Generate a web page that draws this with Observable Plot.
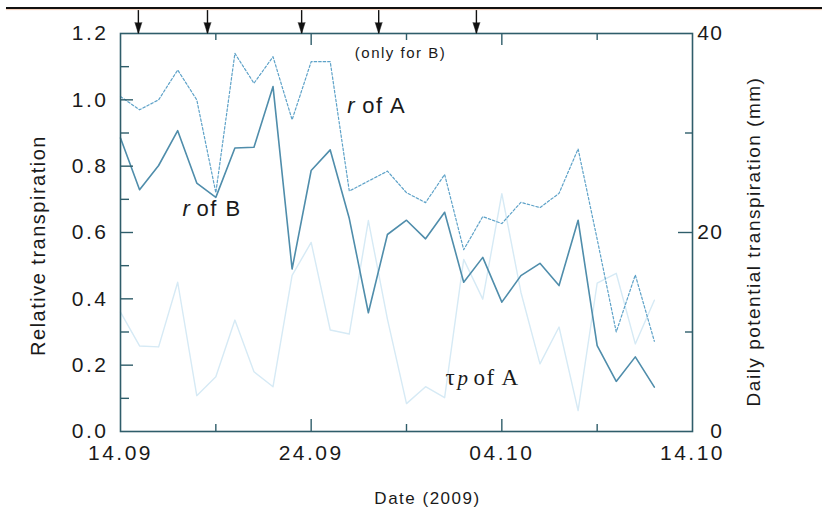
<!DOCTYPE html>
<html><head><meta charset="utf-8">
<script src="https://cdn.jsdelivr.net/npm/d3@7"></script>
<script src="https://cdn.jsdelivr.net/npm/@observablehq/plot@0.6"></script>
<style>
body{margin:0;background:#fff;}
#wrap{position:relative;width:822px;height:520px;overflow:hidden;}
#topline{position:absolute;left:6px;right:0;top:7px;border-top:2px solid #111;box-shadow:0 1px 1px #f3cdb6;}
svg text{letter-spacing:1.5px;}
g[aria-label$="tick label"] text{letter-spacing:2.5px;}
</style></head><body><div id="wrap"><div id="topline"></div></div>
<script>
// ---- data ----
const days = ["2009-09-14","2009-09-15","2009-09-16","2009-09-17","2009-09-18","2009-09-19","2009-09-20","2009-09-21","2009-09-22","2009-09-23","2009-09-24","2009-09-25","2009-09-26","2009-09-27","2009-09-28","2009-09-29","2009-09-30","2009-10-01","2009-10-02","2009-10-03","2009-10-04","2009-10-05","2009-10-06","2009-10-07","2009-10-08","2009-10-09","2009-10-10","2009-10-11","2009-10-12"];
const rOfA = [1.01,0.97,1.00,1.09,1.00,0.72,1.14,1.05,1.13,0.94,1.115,1.115,0.725,0.755,0.785,0.72,0.69,0.775,0.548,0.648,0.627,0.691,0.675,0.718,0.852,0.58,0.30,0.472,0.272];
const rOfB = [0.885,0.729,0.802,0.907,0.749,0.706,0.855,0.857,1.04,0.49,0.787,0.849,0.642,0.358,0.594,0.637,0.581,0.661,0.45,0.525,0.39,0.47,0.507,0.44,0.637,0.259,0.151,0.225,0.134];
const tpOfA = [12.0,8.6,8.5,15.0,3.6,5.5,11.2,6.0,4.5,15.7,19.0,10.2,9.8,21.2,11.3,2.8,4.5,3.4,17.3,13.3,23.9,14.0,6.8,10.5,2.1,14.9,15.9,8.8,13.2]; // mm
const arrowTimes = ["2009-09-14T22:30Z","2009-09-18T13:30Z","2009-09-23T12:00Z","2009-09-27T13:00Z","2009-10-02T16:00Z"];
const xDomain = ["2009-09-14","2009-10-14"];
const xTickLabels = ["2009-09-14","2009-09-24","2009-10-04","2009-10-14"];
const xMajorTicks = ["2009-09-24","2009-10-04"];
const xMinorTicks = ["2009-09-19","2009-09-29","2009-10-09"];
const yTickLabels = [0,0.2,0.4,0.6,0.8,1.0,1.2];
const yMajorTicks = [0.2,0.4,0.6,0.8,1.0];
const yMinorTicks = [0.1,0.3,0.5,0.7,0.9,1.1];
const y2TickLabels = [0,20,40];
const y2MajorTicks = [20];
const y2MinorTicks = [10,30];
const yMax = 1.2, y2Max = 40;
const ratio = yMax / y2Max;

const P = s => new Date(s.length === 10 ? s + "T00:00Z" : s);
const data = days.map((d,i) => ({date:P(d), rA:rOfA[i], rB:rOfB[i], tp:tpOfA[i]}));

const W=822,H=520,mL=120,mR=130,mT=33,mB=89;
const innerW=W-mL-mR, innerH=H-mT-mB;
const frameC="#2f5d6a";
const sans="'Liberation Sans', Arial, sans-serif";
const serif="'Liberation Serif', 'Times New Roman', serif";

const lab = (t, date, yv, o={}) => Plot.text([t], {x:()=>P(date), y:()=>yv, text:d=>d, textAnchor:"start", fill:"#1a1a1a", ...o});

const chart = Plot.plot({
  width:W, height:H, marginLeft:mL, marginRight:mR, marginTop:mT, marginBottom:mB,
  style:{fontFamily:sans, background:"transparent", color:"#1a1a1a"},
  x:{type:"utc", domain:xDomain.map(P)},
  y:{domain:[0,yMax]},
  marks:[
    Plot.line(data,{x:"date", y:d=>d.tp*ratio, stroke:"#d6eaf5", strokeWidth:1.4}),
    Plot.line(data,{x:"date", y:"rA", stroke:"#5ea2c8", strokeWidth:1.2, strokeDasharray:"2.5,2"}),
    Plot.line(data,{x:"date", y:"rB", stroke:"#4f8dab", strokeWidth:1.6}),
    Plot.frame({stroke:frameC, strokeWidth:1.6}),
    // bottom / top ticks (inward)
    Plot.ruleX(xMajorTicks.map(P),{x:d=>d, insetTop:innerH-12, stroke:frameC, strokeWidth:1.4}),
    Plot.ruleX(xMinorTicks.map(P),{x:d=>d, insetTop:innerH-7, stroke:frameC, strokeWidth:1.4}),
    Plot.ruleX(xMajorTicks.map(P),{x:d=>d, insetBottom:innerH-12, stroke:frameC, strokeWidth:1.4}),
    Plot.ruleX(xMinorTicks.map(P),{x:d=>d, insetBottom:innerH-7, stroke:frameC, strokeWidth:1.4}),
    // left ticks
    Plot.ruleY(yMajorTicks,{y:d=>d, insetRight:innerW-13, stroke:frameC, strokeWidth:1.4}),
    Plot.ruleY(yMinorTicks,{y:d=>d, insetRight:innerW-9, stroke:frameC, strokeWidth:1.4}),
    // right ticks
    Plot.ruleY(y2MajorTicks,{y:d=>d*ratio, insetLeft:innerW-14, stroke:frameC, strokeWidth:1.4}),
    Plot.ruleY(y2MinorTicks,{y:d=>d*ratio, insetLeft:innerW-7, stroke:frameC, strokeWidth:1.4}),
    // axes labels
    Plot.axisY({ticks:yTickLabels, tickSize:0, tickPadding:12, tickFormat:d3.format(".1f"), fontSize:21, label:null}),
    Plot.axisX({ticks:xTickLabels.map(P), tickSize:0, tickPadding:14, tickFormat:d3.utcFormat("%d.%m"), fontSize:21, label:null}),
    Plot.text(y2TickLabels,{y:d=>d*ratio, frameAnchor:"right", dx:31, textAnchor:"end", text:d=>String(d), fontSize:21}),
    Plot.text(["Relative transpiration"],{frameAnchor:"left", textAnchor:"middle", dx:-82, dy:13, rotate:-90, fontSize:20}),
    Plot.text(["Daily potential transpiration (mm)"],{frameAnchor:"right", textAnchor:"middle", dx:61, dy:9, rotate:-90, fontSize:19}),
    Plot.text(["Date (2009)"],{frameAnchor:"bottom", dx:21, dy:72, fontSize:17}),
    // arrows
    Plot.ruleX(arrowTimes.map(P),{x:d=>d, insetTop:-23, insetBottom:innerH, stroke:"#111", strokeWidth:1.4}),
    Plot.vector(arrowTimes.map(P),{x:d=>d, frameAnchor:"top", shape:"spike", length:11, r:3.5, rotate:180, anchor:"end", fill:"#111", stroke:"#111", strokeWidth:0.5}),
    Plot.text(["(only for B)"],{frameAnchor:"top", dx:-6, dy:14, fontSize:15}),
    // series labels
    lab("r","2009-09-25T21:30Z",0.983,{fontStyle:"italic", fontSize:22}),
    lab("of A","2009-09-25T21:30Z",0.983,{dx:15, fontSize:22}),
    lab("r","2009-09-17T06:00Z",0.672,{fontStyle:"italic", fontSize:22}),
    lab("of B","2009-09-17T06:00Z",0.672,{dx:14, fontSize:22}),
    lab("τ","2009-10-01T01:00Z",0.163,{fontFamily:serif, fontSize:23}),
    lab("p","2009-10-01T01:00Z",0.163,{dx:12, dy:1, fontFamily:serif, fontStyle:"italic", fontSize:21}),
    lab("of A","2009-10-01T01:00Z",0.163,{dx:28, fontFamily:serif, fontSize:23})
  ]
});
document.getElementById("wrap").appendChild(chart);
</script></body></html>
